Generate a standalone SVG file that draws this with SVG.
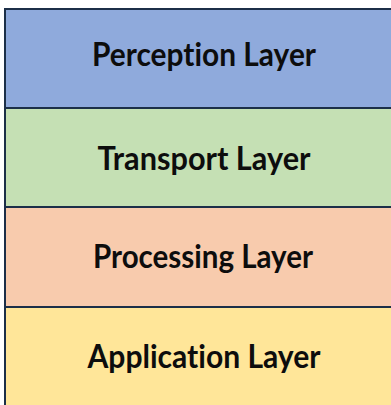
<svg xmlns="http://www.w3.org/2000/svg" width="391" height="405" viewBox="0 0 391 405">
<style>
.layer{stroke:#1c2f48;stroke-width:2}
.lbl{font-family:Lato,"Open Sans","Liberation Sans",sans-serif;font-weight:bold;font-size:32px;fill:#0d0d0d;text-anchor:middle;font-variant-ligatures:none;font-feature-settings:"liga" 0}
</style>
<rect width="391" height="405" fill="#ffffff"/>
<g id="perception">
<rect class="layer" x="5" y="9" width="400" height="99" fill="#8faadc"/>
<text class="lbl" x="204" y="66" textLength="224" lengthAdjust="spacingAndGlyphs">Perception Layer</text>
</g>
<g id="transport">
<rect class="layer" x="5" y="108" width="400" height="99" fill="#c5e0b4"/>
<text class="lbl" x="204" y="170" textLength="213" lengthAdjust="spacingAndGlyphs">Transport Layer</text>
</g>
<g id="processing">
<rect class="layer" x="5" y="207" width="400" height="100" fill="#f8cbad"/>
<text class="lbl" x="203" y="268" textLength="220" lengthAdjust="spacingAndGlyphs">Processing Layer</text>
</g>
<g id="application">
<rect class="layer" x="5" y="307" width="400" height="110" fill="#ffe699"/>
<text class="lbl" x="204" y="368" textLength="233" lengthAdjust="spacingAndGlyphs">Application Layer</text>
</g>
<g id="connectors"></g>
</svg>
